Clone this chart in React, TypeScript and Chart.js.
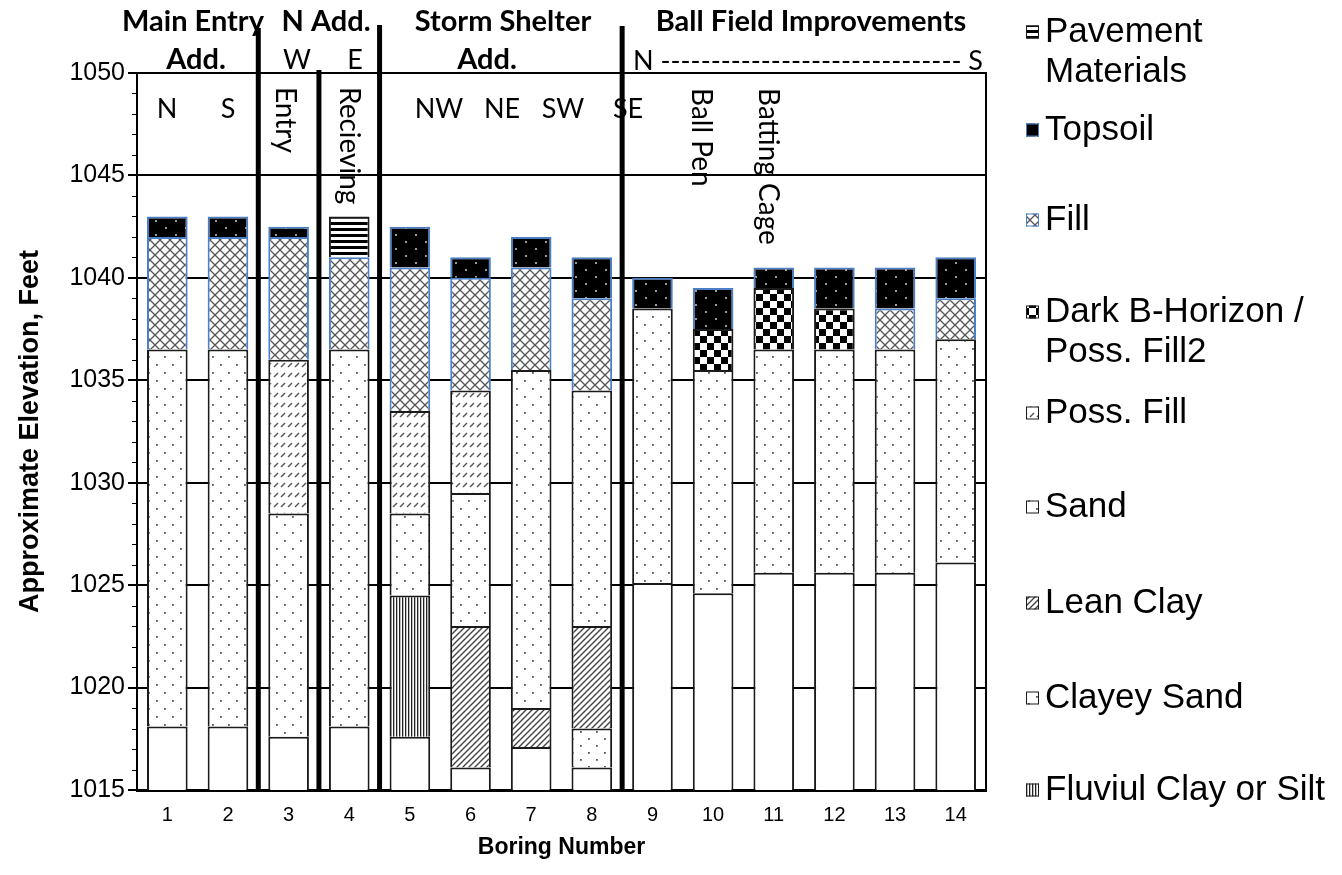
import React, { useEffect, useRef } from 'react';
import { Chart, registerables } from 'chart.js';

Chart.register(...registerables);

// ---------- DATA ----------
const categories = ['1', '2', '3', '4', '5', '6', '7', '8', '9', '10', '11', '12', '13', '14'];
// elevation of the bottom of each boring (ft)
const boringBottom = [1018.1, 1018.1, 1017.6, 1018.1, 1017.6, 1016.1, 1017.1, 1016.1, 1025.1, 1024.6, 1025.6, 1025.6, 1025.6, 1026.1];
// layer thicknesses (ft), stacked bottom to top
const fluviulClay = [null, null, null, null, 6.9, null, null, null, null, null, null, null, null, null];
const clayeySand = [null, null, null, null, null, null, null, 1.9, null, null, null, null, null, null];
const leanClay = [null, null, null, null, null, 6.9, 1.9, 5, null, null, null, null, null, null];
const sand = [18.4, 18.4, 10.9, 18.4, 4, 6.5, 16.5, 11.5, 13.4, 10.9, 10.9, 10.9, 10.9, 10.9];
const possFill = [null, null, 7.5, null, 5, 5, null, null, null, null, null, null, null, null];
const darkBHorizon = [null, null, null, null, null, null, null, null, null, 2, 3, 2, null, null];
const fill = [5.5, 5.5, 6, 4.5, 7, 5.5, 5, 4.5, null, null, null, null, 2, 2];
const topsoil = [1, 1, 0.5, null, 2, 1, 1.5, 2, 1.5, 2, 1, 2, 2, 2];
const pavement = [null, null, null, 2, null, null, null, null, null, null, null, null, null, null];

const yMin = 1015;
const yMax = 1050;

const seriesNames = {
  pavement: ['Pavement', 'Materials'],
  topsoil: ['Topsoil'],
  fill: ['Fill'],
  darkB: ['Dark B-Horizon /', 'Poss. Fill2'],
  possFill: ['Poss. Fill'],
  sand: ['Sand'],
  leanClay: ['Lean Clay'],
  clayeySand: ['Clayey Sand'],
  fluviul: ['Fluviul Clay or Silt'],
};

// ---------- LAYOUT ----------
const W = 1342;
const H = 875;
const AREA = { left: 137, right: 986, top: 73, bottom: 790 };
const BLUE = '#4A7EC7';
const EDGE = '#1a1a1a';
const SANS = '"Liberation Sans", Arial, sans-serif';
const CAL = 'Lato, "Open Sans", sans-serif';

function makePattern(ctx: CanvasRenderingContext2D, w: number, h: number, draw: (g: CanvasRenderingContext2D) => void) {
  const c = document.createElement('canvas');
  c.width = w;
  c.height = h;
  const g = c.getContext('2d') as CanvasRenderingContext2D;
  draw(g);
  return ctx.createPattern(c, 'repeat') as CanvasPattern;
}

function buildPatterns(ctx: CanvasRenderingContext2D) {
  const white = (g: CanvasRenderingContext2D, w: number, h: number) => {
    g.fillStyle = '#fff';
    g.fillRect(0, 0, w, h);
  };
  return {
    pavement: makePattern(ctx, 6, 6, (g) => {
      white(g, 6, 6);
      g.fillStyle = '#000';
      g.fillRect(0, 0, 6, 3);
    }),
    topsoil: makePattern(ctx, 20, 14, (g) => {
      g.fillStyle = '#000';
      g.fillRect(0, 0, 20, 14);
      g.fillStyle = '#9a9a9a';
      g.fillRect(5, 3, 2, 2);
      g.fillRect(15, 10, 2, 2);
    }),
    fill: makePattern(ctx, 10, 10, (g) => {
      white(g, 10, 10);
      g.strokeStyle = '#555';
      g.lineWidth = 1.3;
      g.beginPath();
      g.moveTo(-1, -1); g.lineTo(11, 11);
      g.moveTo(11, -1); g.lineTo(-1, 11);
      g.stroke();
    }),
    darkB: makePattern(ctx, 14, 14, (g) => {
      white(g, 14, 14);
      g.fillStyle = '#000';
      g.fillRect(0, 0, 7, 7);
      g.fillRect(7, 7, 7, 7);
    }),
    possFill: makePattern(ctx, 7, 10, (g) => {
      white(g, 7, 10);
      g.strokeStyle = '#555';
      g.lineWidth = 1.4;
      g.beginPath();
      g.moveTo(1, 7); g.lineTo(5, 3);
      g.stroke();
    }),
    sand: makePattern(ctx, 16, 16, (g) => {
      white(g, 16, 16);
      g.fillStyle = '#555';
      g.fillRect(4, 4, 1.8, 1.8);
      g.fillRect(12, 12, 1.8, 1.8);
    }),
    leanClay: makePattern(ctx, 6, 6, (g) => {
      white(g, 6, 6);
      g.strokeStyle = '#444';
      g.lineWidth = 1.4;
      g.beginPath();
      g.moveTo(-1, 7); g.lineTo(7, -1);
      g.moveTo(-1, 1); g.lineTo(1, -1);
      g.moveTo(5, 7); g.lineTo(7, 5);
      g.stroke();
    }),
    clayeySand: makePattern(ctx, 16, 14, (g) => {
      white(g, 16, 14);
      g.fillStyle = '#555';
      g.fillRect(4, 3, 1.8, 1.8);
      g.fillRect(12, 10, 1.8, 1.8);
    }),
    fluviul: makePattern(ctx, 3, 3, (g) => {
      white(g, 3, 3);
      g.fillStyle = '#222';
      g.fillRect(0, 0, 1.3, 3);
    }),
  };
}

const DIVIDERS = [
  { after: 1, top: 28 },
  { after: 2, top: 70 },
  { after: 3, top: 25 },
  { after: 7, top: 26 },
];

const TEXTS = [
  { t: 'Main Entry', x: 193, y: 22, bold: true },
  { t: 'Add.', x: 196, y: 60, bold: true },
  { t: 'N Add.', x: 326, y: 22, bold: true },
  { t: 'W', x: 297, y: 60, bold: false },
  { t: 'E', x: 355, y: 60, bold: false },
  { t: 'Storm Shelter', x: 503, y: 22, bold: true },
  { t: 'Add.', x: 487, y: 60, bold: true },
  { t: 'Ball Field Improvements', x: 811, y: 22, bold: true },
  { t: 'N ------------------------------ S', x: 808, y: 61, bold: false },
  { t: 'N', x: 167, y: 109, bold: false },
  { t: 'S', x: 228, y: 109, bold: false },
  { t: 'NW', x: 439, y: 109, bold: false },
  { t: 'NE', x: 502, y: 109, bold: false },
  { t: 'SW', x: 563, y: 109, bold: false },
  { t: 'SE', x: 628, y: 109, bold: false },
];

const VTEXTS = [
  { t: 'Entry', x: 285, y: 87 },
  { t: 'Recieving', x: 349, y: 87 },
  { t: 'Ball Pen', x: 701, y: 88 },
  { t: 'Batting Cage', x: 768, y: 88 },
];

const LEGEND_X = 1026;
const LEGEND_TEXT_X = 1045;
const LEGEND_Y = {
  pavement: 32, topsoil: 130, fill: 220, darkB: 312, possFill: 413,
  sand: 507, leanClay: 603, clayeySand: 698, fluviul: 790,
};
const LEGEND_ORDER = ['pavement', 'topsoil', 'fill', 'darkB', 'possFill', 'sand', 'leanClay', 'clayeySand', 'fluviul'];

export default function App() {
  const ref = useRef<HTMLCanvasElement | null>(null);

  useEffect(() => {
    const canvas = ref.current as HTMLCanvasElement;
    const ctx0 = canvas.getContext('2d') as CanvasRenderingContext2D;
    const P = buildPatterns(ctx0);
    const borderOf = (k: string) => (k === 'fill' || k === 'topsoil' ? BLUE : EDGE);

    const mk = (label: string, data: (number | null)[], bg: any, border: string) => ({
      label,
      data,
      backgroundColor: bg,
      borderColor: border,
      borderWidth: 2,
      borderSkipped: 'start',
      barPercentage: 0.67,
      categoryPercentage: 1,
      stack: 's',
    });

    const datasets = [
      mk('Boring base', boringBottom, '#ffffff', EDGE),
      mk('Fluviul Clay or Silt', fluviulClay, P.fluviul, EDGE),
      mk('Clayey Sand', clayeySand, P.clayeySand, EDGE),
      mk('Lean Clay', leanClay, P.leanClay, EDGE),
      mk('Sand', sand, P.sand, EDGE),
      mk('Poss. Fill', possFill, P.possFill, EDGE),
      mk('Dark B-Horizon / Poss. Fill2', darkBHorizon, P.darkB, EDGE),
      mk('Fill', fill, P.fill, BLUE),
      mk('Topsoil', topsoil, P.topsoil, BLUE),
      mk('Pavement Materials', pavement, P.pavement, EDGE),
    ];

    const overlay = {
      id: 'overlay',
      afterDraw(chart: any) {
        const { ctx, chartArea, scales } = chart;
        const x = scales.x;
        const y = scales.y;
        ctx.save();
        // right frame line
        ctx.strokeStyle = '#000';
        ctx.lineWidth = 2;
        ctx.beginPath();
        ctx.moveTo(chartArea.right, chartArea.top - 1);
        ctx.lineTo(chartArea.right, chartArea.bottom);
        ctx.stroke();
        // minor ticks
        ctx.lineWidth = 1;
        for (let v = yMin + 1; v < yMax; v++) {
          if (v % 5 === 0) continue;
          const py = Math.round(y.getPixelForValue(v)) + 0.5;
          ctx.beginPath();
          ctx.moveTo(chartArea.left - 5, py);
          ctx.lineTo(chartArea.left, py);
          ctx.stroke();
        }
        // section dividers
        ctx.lineWidth = 5;
        DIVIDERS.forEach((d) => {
          const px = (x.getPixelForValue(d.after) + x.getPixelForValue(d.after + 1)) / 2;
          ctx.beginPath();
          ctx.moveTo(px, d.top);
          ctx.lineTo(px, chartArea.bottom);
          ctx.stroke();
        });
        // annotation texts
        ctx.fillStyle = '#000';
        ctx.textAlign = 'center';
        ctx.textBaseline = 'middle';
        TEXTS.forEach((o) => {
          ctx.font = o.bold ? 'bold 29px ' + CAL : '27px ' + CAL;
          ctx.fillText(o.t, o.x, o.y);
        });
        VTEXTS.forEach((o) => {
          ctx.save();
          ctx.translate(o.x, o.y);
          ctx.rotate(Math.PI / 2);
          ctx.font = '28px ' + CAL;
          ctx.textAlign = 'left';
          ctx.textBaseline = 'middle';
          ctx.fillText(o.t, 0, 0);
          ctx.restore();
        });
        // legend
        ctx.font = '35px ' + SANS;
        ctx.textAlign = 'left';
        ctx.textBaseline = 'middle';
        LEGEND_ORDER.forEach((k) => {
          const ly = (LEGEND_Y as any)[k];
          const s = 13;
          ctx.fillStyle = (P as any)[k];
          ctx.fillRect(LEGEND_X, ly - s / 2, s, s);
          ctx.strokeStyle = borderOf(k);
          ctx.lineWidth = 1;
          ctx.strokeRect(LEGEND_X + 0.5, ly - s / 2 + 0.5, s - 1, s - 1);
          ctx.fillStyle = '#000';
          (seriesNames as any)[k].forEach((line: string, i: number) => {
            ctx.fillText(line, LEGEND_TEXT_X, ly + i * 40);
          });
        });
        ctx.restore();
      },
    };

    const chart = new Chart(canvas, {
      type: 'bar',
      data: { labels: categories, datasets: datasets as any },
      options: {
        responsive: false,
        devicePixelRatio: 1,
        animation: false,
        layout: { padding: { top: AREA.top, right: W - AREA.right, left: 0, bottom: 0 } },
        plugins: { legend: { display: false }, tooltip: { enabled: false } },
        scales: {
          x: {
            stacked: true,
            grid: { display: false },
            border: { display: true, color: '#000', width: 3 },
            ticks: { color: '#000', font: { family: SANS, size: 20 }, padding: 5 },
            title: {
              display: true,
              text: 'Boring Number',
              color: '#000',
              font: { family: SANS, size: 23, weight: 'bold' },
              padding: { top: 0, bottom: 14 },
            },
            afterFit: (s: any) => { s.height = H - AREA.bottom; },
          },
          y: {
            stacked: true,
            min: yMin,
            max: yMax,
            ticks: {
              stepSize: 1,
              autoSkip: false,
              color: '#000',
              font: { family: SANS, size: 25 },
              padding: 3,
              callback: (v: any) => (Number(v) % 5 === 0 ? String(v) : ''),
            },
            grid: {
              color: (c: any) => (c.tick && c.tick.value % 5 === 0 ? '#000' : 'rgba(0,0,0,0)'),
              lineWidth: 2,
              tickLength: 9,
              tickWidth: 2,
              tickColor: (c: any) => (c.tick && c.tick.value % 5 === 0 ? '#000' : 'rgba(0,0,0,0)'),
            },
            border: { display: true, color: '#000', width: 2 },
            title: {
              display: true,
              text: 'Approximate Elevation, Feet',
              color: '#000',
              font: { family: SANS, size: 27, weight: 'bold' },
              padding: { top: 14, bottom: 0 },
            },
            afterFit: (s: any) => { s.width = AREA.left; },
          },
        },
      },
      plugins: [overlay],
    } as any);

    return () => chart.destroy();
  }, []);

  return (
    <div style={{ position: 'fixed', left: 0, top: 0, width: W, height: H, background: '#fff' }}>
      <canvas ref={ref} width={W} height={H} style={{ display: 'block', width: W, height: H }} />
    </div>
  );
}
